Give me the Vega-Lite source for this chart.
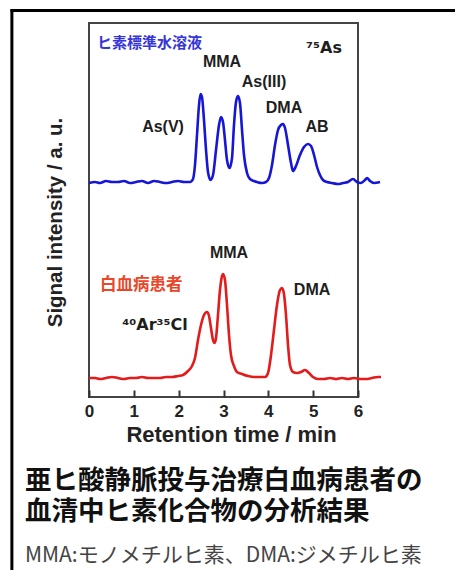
{
  "$schema": "https://vega.github.io/schema/vega-lite/v6.json",
  "width": 269,
  "height": 374,
  "autosize": {"type": "none"},
  "padding": {"left": 89, "top": 23, "right": 97, "bottom": 173},
  "background": "#ffffff",
  "config": {
    "view": {"stroke": "#444444", "strokeWidth": 2},
    "axis": {"grid": false}
  },
  "title": {
    "text": ["亜ヒ酸静脈投与治療白血病患者の", "血清中ヒ素化合物の分析結果"],
    "subtitle": "MMA:モノメチルヒ素、DMA:ジメチルヒ素",
    "orient": "bottom",
    "anchor": "start",
    "frame": "group",
    "dx": -64,
    "offset": -105,
    "font": "Noto Sans CJK JP",
    "fontSize": 26.5,
    "fontWeight": "bold",
    "color": "#111111",
    "lineHeight": 31,
    "subtitleFont": "Noto Sans CJK JP",
    "subtitleFontSize": 21,
    "subtitleFontWeight": "normal",
    "subtitleColor": "#444444",
    "subtitlePadding": 20
  },
  "datasets": {
    "curves": [
      {"s":"std","t":0.000,"v":214},{"s":"std","t":0.134,"v":215},{"s":"std","t":0.245,"v":214},{"s":"std","t":0.379,"v":216},
      {"s":"std","t":0.513,"v":215},{"s":"std","t":0.647,"v":215},{"s":"std","t":0.781,"v":216},{"s":"std","t":0.914,"v":214},
      {"s":"std","t":1.048,"v":215},{"s":"std","t":1.182,"v":216},{"s":"std","t":1.316,"v":214},{"s":"std","t":1.450,"v":216},
      {"s":"std","t":1.584,"v":215},{"s":"std","t":1.717,"v":214},{"s":"std","t":1.851,"v":215},{"s":"std","t":1.985,"v":216},
      {"s":"std","t":2.119,"v":215},{"s":"std","t":2.253,"v":215},{"s":"std","t":2.320,"v":218},{"s":"std","t":2.364,"v":232},
      {"s":"std","t":2.409,"v":262},{"s":"std","t":2.454,"v":292},{"s":"std","t":2.487,"v":303},{"s":"std","t":2.520,"v":300},
      {"s":"std","t":2.565,"v":277},{"s":"std","t":2.610,"v":247},{"s":"std","t":2.654,"v":225},{"s":"std","t":2.710,"v":217},
      {"s":"std","t":2.766,"v":222},{"s":"std","t":2.833,"v":247},{"s":"std","t":2.900,"v":272},{"s":"std","t":2.944,"v":280},
      {"s":"std","t":2.989,"v":275},{"s":"std","t":3.033,"v":257},{"s":"std","t":3.078,"v":237},{"s":"std","t":3.134,"v":229},
      {"s":"std","t":3.190,"v":239},{"s":"std","t":3.234,"v":272},{"s":"std","t":3.279,"v":295},{"s":"std","t":3.323,"v":301},
      {"s":"std","t":3.368,"v":294},{"s":"std","t":3.413,"v":267},{"s":"std","t":3.457,"v":242},{"s":"std","t":3.524,"v":224},
      {"s":"std","t":3.591,"v":218},{"s":"std","t":3.680,"v":216},{"s":"std","t":3.747,"v":215},{"s":"std","t":3.859,"v":214},
      {"s":"std","t":3.948,"v":215},{"s":"std","t":4.015,"v":219},{"s":"std","t":4.082,"v":232},{"s":"std","t":4.149,"v":252},
      {"s":"std","t":4.216,"v":267},{"s":"std","t":4.283,"v":272},{"s":"std","t":4.327,"v":273},{"s":"std","t":4.372,"v":269},
      {"s":"std","t":4.439,"v":252},{"s":"std","t":4.506,"v":234},{"s":"std","t":4.550,"v":226},{"s":"std","t":4.617,"v":231},
      {"s":"std","t":4.706,"v":242},{"s":"std","t":4.796,"v":250},{"s":"std","t":4.885,"v":253},{"s":"std","t":4.952,"v":251},
      {"s":"std","t":5.019,"v":242},{"s":"std","t":5.086,"v":230},{"s":"std","t":5.152,"v":222},{"s":"std","t":5.219,"v":217},
      {"s":"std","t":5.309,"v":215},{"s":"std","t":5.420,"v":214},{"s":"std","t":5.554,"v":213},{"s":"std","t":5.665,"v":214},
      {"s":"std","t":5.777,"v":215},{"s":"std","t":5.888,"v":218},{"s":"std","t":5.978,"v":215},{"s":"std","t":6.067,"v":214},
      {"s":"std","t":6.156,"v":217},{"s":"std","t":6.201,"v":219},{"s":"std","t":6.268,"v":216},{"s":"std","t":6.357,"v":214},
      {"s":"std","t":6.491,"v":215},
      {"s":"pat","t":0.000,"v":19},{"s":"pat","t":0.134,"v":19},{"s":"pat","t":0.245,"v":18},{"s":"pat","t":0.379,"v":19},
      {"s":"pat","t":0.513,"v":20},{"s":"pat","t":0.647,"v":19},{"s":"pat","t":0.781,"v":18},{"s":"pat","t":0.914,"v":19},
      {"s":"pat","t":1.048,"v":19},{"s":"pat","t":1.182,"v":20},{"s":"pat","t":1.316,"v":19},{"s":"pat","t":1.450,"v":19},
      {"s":"pat","t":1.584,"v":19},{"s":"pat","t":1.717,"v":20},{"s":"pat","t":1.851,"v":20},{"s":"pat","t":1.985,"v":21},
      {"s":"pat","t":2.097,"v":22},{"s":"pat","t":2.208,"v":26},{"s":"pat","t":2.297,"v":31},{"s":"pat","t":2.364,"v":39},
      {"s":"pat","t":2.431,"v":57},{"s":"pat","t":2.498,"v":72},{"s":"pat","t":2.565,"v":82},{"s":"pat","t":2.632,"v":85},
      {"s":"pat","t":2.677,"v":81},{"s":"pat","t":2.721,"v":69},{"s":"pat","t":2.766,"v":57},{"s":"pat","t":2.799,"v":54},
      {"s":"pat","t":2.833,"v":59},{"s":"pat","t":2.877,"v":82},{"s":"pat","t":2.922,"v":107},{"s":"pat","t":2.967,"v":121},
      {"s":"pat","t":2.989,"v":123},{"s":"pat","t":3.033,"v":117},{"s":"pat","t":3.078,"v":92},{"s":"pat","t":3.123,"v":62},
      {"s":"pat","t":3.167,"v":42},{"s":"pat","t":3.234,"v":31},{"s":"pat","t":3.301,"v":25},{"s":"pat","t":3.413,"v":23},
      {"s":"pat","t":3.547,"v":21},{"s":"pat","t":3.680,"v":20},{"s":"pat","t":3.814,"v":20},{"s":"pat","t":3.926,"v":20},
      {"s":"pat","t":3.993,"v":24},{"s":"pat","t":4.060,"v":42},{"s":"pat","t":4.126,"v":67},{"s":"pat","t":4.193,"v":92},
      {"s":"pat","t":4.260,"v":107},{"s":"pat","t":4.305,"v":109},{"s":"pat","t":4.349,"v":103},{"s":"pat","t":4.394,"v":82},
      {"s":"pat","t":4.439,"v":52},{"s":"pat","t":4.483,"v":32},{"s":"pat","t":4.550,"v":25},{"s":"pat","t":4.639,"v":24},
      {"s":"pat","t":4.729,"v":25},{"s":"pat","t":4.818,"v":27},{"s":"pat","t":4.907,"v":24},{"s":"pat","t":4.996,"v":20},
      {"s":"pat","t":5.108,"v":18},{"s":"pat","t":5.242,"v":18},{"s":"pat","t":5.376,"v":19},{"s":"pat","t":5.509,"v":18},
      {"s":"pat","t":5.643,"v":19},{"s":"pat","t":5.777,"v":18},{"s":"pat","t":5.911,"v":19},{"s":"pat","t":6.045,"v":18},
      {"s":"pat","t":6.179,"v":18},{"s":"pat","t":6.312,"v":19},{"s":"pat","t":6.446,"v":20},{"s":"pat","t":6.513,"v":20}
    ],
    "peaks": [
      {"label":"As(V)","t":1.651,"v":270},
      {"label":"MMA","t":2.967,"v":335},
      {"label":"As(III)","t":3.904,"v":315},
      {"label":"DMA","t":4.350,"v":289},
      {"label":"AB","t":5.086,"v":270},
      {"label":"MMA","t":3.123,"v":144},
      {"label":"DMA","t":4.975,"v":107}
    ],
    "isotopes": [
      {"label":"⁷⁵As","t":5.242,"v":349},
      {"label":"⁴⁰Ar³⁵Cl","t":1.472,"v":72}
    ],
    "stdlabel": [{"label":"ヒ素標準水溶液","t":0.178,"v":354}],
    "patlabel": [{"label":"白血病患者","t":0.245,"v":112}]
  },
  "layer": [
    {
      "data": {"name": "curves"},
      "mark": {"type": "line", "strokeWidth": 2.6, "clip": false, "interpolate": "monotone"},
      "encoding": {
        "x": {
          "field": "t", "type": "quantitative",
          "scale": {"domain": [0, 6], "nice": false, "zero": false},
          "axis": {
            "title": "Retention time / min",
            "values": [0, 1, 2, 3, 4, 5, 6],
            "format": "d",
            "domain": false,
            "tickSize": -7,
            "tickWidth": 2,
            "tickColor": "#333333",
            "labelFont": "Liberation Sans",
            "labelFontSize": 17,
            "labelFontWeight": "bold",
            "labelColor": "#222222",
            "labelPadding": 13,
            "labelFlush": false,
            "titleFont": "Liberation Sans",
            "titleFontSize": 22,
            "titleFontWeight": "bold",
            "titleColor": "#222222",
            "titlePadding": 5,
            "titleX": 142
          }
        },
        "y": {
          "field": "v", "type": "quantitative",
          "scale": {"domain": [0, 374], "nice": false, "zero": false},
          "axis": {
            "title": "Signal intensity / a. u.",
            "labels": false,
            "ticks": false,
            "domain": false,
            "titleFont": "Liberation Sans",
            "titleFontSize": 20.5,
            "titleFontWeight": "bold",
            "titleColor": "#222222",
            "titlePadding": 24,
            "titleY": 199
          }
        },
        "color": {
          "field": "s", "type": "nominal",
          "scale": {"domain": ["std", "pat"], "range": ["#1616d6", "#e31b1b"]},
          "legend": null
        },
        "order": {"field": "t", "type": "quantitative"}
      }
    },
    {
      "data": {"name": "peaks"},
      "mark": {"type": "text", "font": "Liberation Sans", "fontSize": 16, "fontWeight": "bold", "color": "#1e1e1e", "align": "center", "baseline": "middle", "clip": false},
      "encoding": {
        "x": {"field": "t", "type": "quantitative"},
        "y": {"field": "v", "type": "quantitative"},
        "text": {"field": "label"}
      }
    },
    {
      "data": {"name": "isotopes"},
      "mark": {"type": "text", "font": "DejaVu Sans", "fontSize": 16, "fontWeight": "bold", "color": "#1e1e1e", "align": "center", "baseline": "middle", "clip": false},
      "encoding": {
        "x": {"field": "t", "type": "quantitative"},
        "y": {"field": "v", "type": "quantitative"},
        "text": {"field": "label"}
      }
    },
    {
      "data": {"name": "stdlabel"},
      "mark": {"type": "text", "font": "Noto Sans CJK JP", "fontSize": 15, "fontWeight": "bold", "color": "#3535d8", "align": "left", "baseline": "middle"},
      "encoding": {
        "x": {"field": "t", "type": "quantitative"},
        "y": {"field": "v", "type": "quantitative"},
        "text": {"field": "label"}
      }
    },
    {
      "data": {"name": "patlabel"},
      "mark": {"type": "text", "font": "Noto Sans CJK JP", "fontSize": 16.5, "fontWeight": "bold", "color": "#e8472a", "align": "left", "baseline": "middle"},
      "encoding": {
        "x": {"field": "t", "type": "quantitative"},
        "y": {"field": "v", "type": "quantitative"},
        "text": {"field": "label"}
      }
    },
    {
      "data": {"values": [{}]},
      "mark": {"type": "rule", "color": "#000000", "strokeWidth": 3, "clip": false},
      "encoding": {
        "x": {"datum": -1.75},
        "x2": {"datum": 10},
        "y": {"datum": 386.5}
      }
    },
    {
      "data": {"values": [{}]},
      "mark": {"type": "rule", "color": "#000000", "strokeWidth": 3, "clip": false},
      "encoding": {
        "x": {"datum": -1.72},
        "y": {"datum": 388},
        "y2": {"datum": -174}
      }
    }
  ]
}
